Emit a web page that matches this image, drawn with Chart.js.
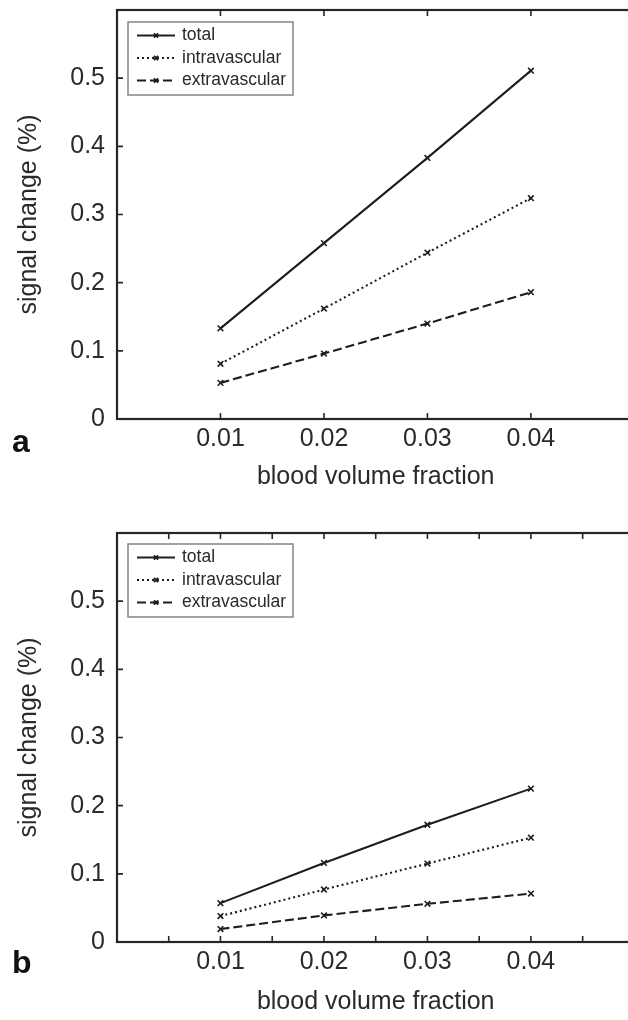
<!DOCTYPE html>
<html>
<head>
<meta charset="utf-8">
<script src="https://cdn.jsdelivr.net/npm/chart.js@4"></script>
<style>
  html, body { margin: 0; padding: 0; background: #fff; overflow: hidden; }
  #wrap { position: relative; width: 628px; height: 1020px; overflow: hidden; }
  canvas { position: absolute; left: 0; }
  .panel { position: absolute; left: 12px; font: bold 32px "Liberation Sans", Arial, sans-serif; line-height: 32px; color: #111; }
</style>
</head>
<body>
<div id="wrap">
  <canvas id="chartA" width="640" height="510" style="top:0"></canvas>
  <canvas id="chartB" width="640" height="510" style="top:510px"></canvas>
  <div class="panel" style="top:425px">a</div>
  <div class="panel" style="top:946px">b</div>
</div>
<script>
// blood volume fraction (x) and signal change in % (y)
const xValues = [0.01, 0.02, 0.03, 0.04];
const seriesNames = ['total', 'intravascular', 'extravascular'];

const aTotal = [0.133, 0.258, 0.383, 0.511];
const aIntra = [0.081, 0.162, 0.244, 0.324];
const aExtra = [0.053, 0.096, 0.140, 0.186];

const bTotal = [0.057, 0.116, 0.172, 0.225];
const bIntra = [0.038, 0.077, 0.115, 0.153];
const bExtra = [0.019, 0.039, 0.056, 0.071];

const xTickLabels = ['0.01', '0.02', '0.03', '0.04'];
const yTickLabels = ['0', '0.1', '0.2', '0.3', '0.4', '0.5'];

const FONT = '"Liberation Sans", Arial, sans-serif';
const INK = '#1e1e1e';
const TEXT = '#2a2a2a';

function findLabel(list, value) {
  const hit = list.find(l => Math.abs(parseFloat(l) - value) < 1e-6);
  return hit === undefined ? '' : hit;
}

// box around the plot with inward ticks, matlab style
const framePlugin = {
  id: 'frame',
  afterDatasetsDraw(chart) {
    const {ctx, chartArea: a, scales: {x, y}} = chart;
    ctx.save();
    ctx.strokeStyle = '#262626';
    ctx.lineWidth = 2.2;
    ctx.strokeRect(a.left, a.top, a.right - a.left, a.bottom - a.top);
    ctx.lineWidth = 1.6;
    ctx.beginPath();
    x.ticks.forEach(t => {
      const px = x.getPixelForValue(t.value);
      if (px <= a.left + 1 || px >= a.right - 1) return;
      ctx.moveTo(px, a.bottom); ctx.lineTo(px, a.bottom - 6);
      ctx.moveTo(px, a.top); ctx.lineTo(px, a.top + 6);
    });
    y.ticks.forEach(t => {
      const py = y.getPixelForValue(t.value);
      if (py <= a.top + 1 || py >= a.bottom - 1) return;
      ctx.moveTo(a.left, py); ctx.lineTo(a.left + 6, py);
      ctx.moveTo(a.right, py); ctx.lineTo(a.right - 6, py);
    });
    ctx.stroke();
    ctx.restore();
  }
};

// legend in a grey box, line sample with the marker on it
const boxLegend = {
  id: 'boxLegend',
  afterDraw(chart, args, opts) {
    const {ctx, chartArea: a} = chart;
    const x0 = a.left + 11, y0 = a.top + opts.top, w = 165, h = 73;
    ctx.save();
    ctx.fillStyle = '#fff';
    ctx.fillRect(x0, y0, w, h);
    ctx.strokeStyle = '#8c8c8c';
    ctx.lineWidth = 1.6;
    ctx.strokeRect(x0, y0, w, h);
    chart.data.datasets.forEach((ds, i) => {
      const ry = y0 + 13.5 + i * 22.5;
      ctx.strokeStyle = ds.borderColor;
      ctx.lineWidth = ds.borderWidth;
      ctx.setLineDash(ds.borderDash || []);
      ctx.beginPath();
      ctx.moveTo(x0 + 9, ry);
      ctx.lineTo(x0 + 47, ry);
      ctx.stroke();
      ctx.setLineDash([]);
      ctx.lineWidth = 2;
      Chart.helpers.drawPoint(ctx, {pointStyle: 'crossRot', radius: 3, borderWidth: 2, rotation: 0}, x0 + 28, ry);
      ctx.fillStyle = TEXT;
      ctx.font = '17.5px ' + FONT;
      ctx.textBaseline = 'middle';
      ctx.textAlign = 'left';
      ctx.fillText(ds.label, x0 + 54, ry);
    });
    ctx.restore();
  }
};

const dashes = [[], [2, 3], [9, 4]];

function makeChart(id, series, cfg) {
  const datasets = series.map((vals, i) => ({
    label: seriesNames[i],
    data: xValues.map((xv, j) => ({x: xv, y: vals[j]})),
    borderColor: INK,
    borderWidth: 2.1,
    borderDash: dashes[i],
    pointStyle: 'crossRot',
    pointRadius: 4,
    pointBorderWidth: 1.6,
    pointBorderColor: INK,
    pointBackgroundColor: INK,
    fill: false,
    tension: 0
  }));

  return new Chart(document.getElementById(id), {
    type: 'line',
    data: {datasets},
    plugins: [framePlugin, boxLegend],
    options: {
      responsive: false,
      animation: false,
      devicePixelRatio: 1,
      layout: {padding: {top: cfg.top, right: 3, left: 0, bottom: 0}},
      plugins: {
        legend: {display: false},
        tooltip: {enabled: false},
        boxLegend: {top: cfg.legendTop}
      },
      scales: {
        x: {
          type: 'linear',
          min: 0,
          max: 0.05,
          grid: {display: false, drawTicks: false},
          border: {display: false},
          ticks: {
            stepSize: cfg.xStep,
            autoSkip: false,
            maxRotation: 0,
            padding: 5,
            color: TEXT,
            font: {family: FONT, size: 25},
            callback: v => findLabel(xTickLabels, v)
          },
          title: {
            display: true,
            text: 'blood volume fraction',
            color: TEXT,
            font: {family: FONT, size: 25},
            padding: {top: 0, bottom: cfg.titlePad}
          },
          afterFit(scale) {
            scale.height = cfg.axisHeight;
            scale.paddingLeft = 0;
            scale.paddingRight = 0;
          }
        },
        y: {
          min: 0,
          max: 0.6,
          grid: {display: false, drawTicks: false},
          border: {display: false},
          ticks: {
            stepSize: 0.1,
            padding: 12,
            color: TEXT,
            font: {family: FONT, size: 25},
            callback: v => findLabel(yTickLabels, v)
          },
          title: {
            display: true,
            text: 'signal change (%)',
            color: TEXT,
            font: {family: FONT, size: 25},
            padding: {top: 14, bottom: 0}
          },
          afterFit(scale) {
            scale.width = 117;
            scale.paddingTop = 0;
            scale.paddingBottom = 0;
          }
        }
      }
    }
  });
}

makeChart('chartA', [aTotal, aIntra, aExtra], {top: 10, axisHeight: 91, titlePad: 18, xStep: 0.01, legendTop: 12});
makeChart('chartB', [bTotal, bIntra, bExtra], {top: 23, axisHeight: 78, titlePad: 3, xStep: 0.005, legendTop: 11});
</script>
</body>
</html>
